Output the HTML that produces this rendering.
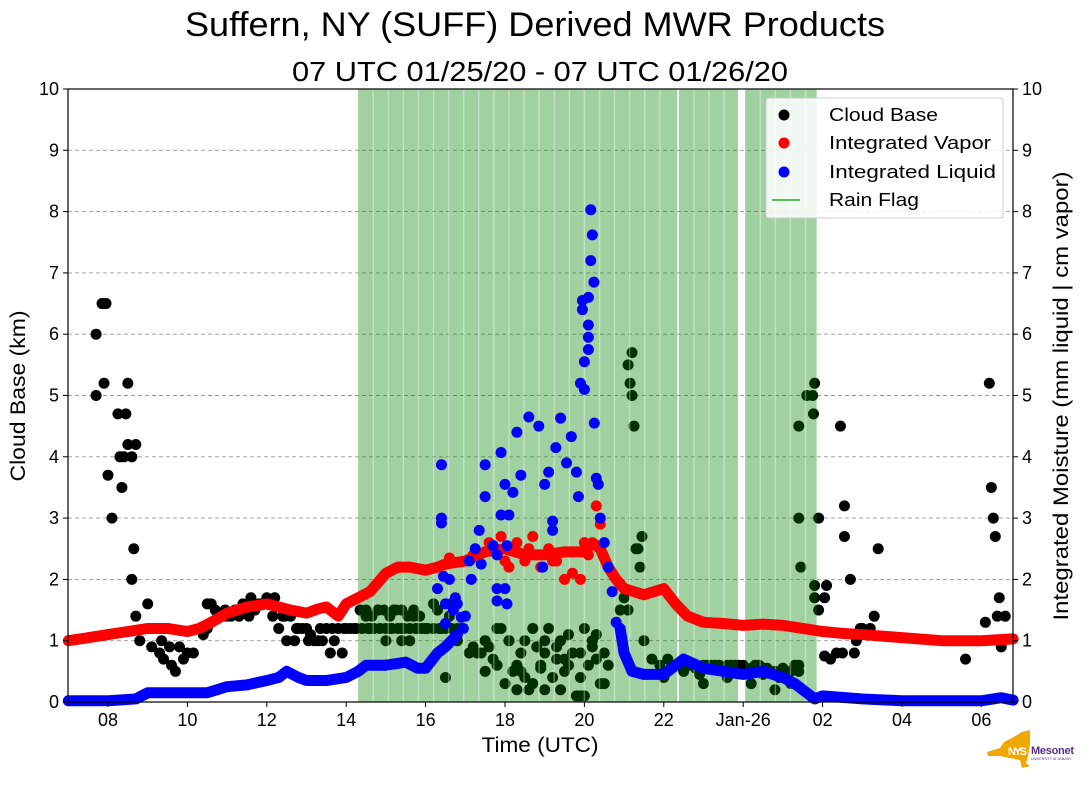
<!DOCTYPE html>
<html><head><meta charset="utf-8"><style>
html,body{margin:0;padding:0;background:#fff;}
svg{display:block;font-family:"Liberation Sans","DejaVu Sans",sans-serif;}
</style></head><body>
<svg id="chart" width="1089" height="804" viewBox="0 0 1089 804" xmlns="http://www.w3.org/2000/svg">
<text x="535" y="36" font-size="34" text-anchor="middle" textLength="700" lengthAdjust="spacingAndGlyphs">Suffern, NY (SUFF) Derived MWR Products</text>
<text x="540" y="81" font-size="28" text-anchor="middle" textLength="496" lengthAdjust="spacingAndGlyphs">07 UTC 01/25/20 - 07 UTC 01/26/20</text>
<g id="grid"></g>
<g id="cloud"></g>
<g id="rain"></g>
<g id="vapor"></g>
<g id="liquid"></g>
<g id="axes"></g>
<text x="540" y="752" font-size="21" text-anchor="middle" textLength="117" lengthAdjust="spacingAndGlyphs">Time (UTC)</text>
<text transform="translate(25,396) rotate(-90)" font-size="21" text-anchor="middle" textLength="171" lengthAdjust="spacingAndGlyphs">Cloud Base (km)</text>
<text transform="translate(1068,396) rotate(-90)" font-size="21" text-anchor="middle" textLength="449" lengthAdjust="spacingAndGlyphs">Integrated Moisture (mm liquid | cm vapor)</text>
<g>
<rect x="766" y="98" width="237" height="120" rx="3" fill="#fff" fill-opacity="0.85" stroke="#ccc"/>
<circle cx="784" cy="115" r="5.5" fill="#000"/><text x="829" y="121" font-size="18" textLength="109" lengthAdjust="spacingAndGlyphs">Cloud Base</text>
<circle cx="784" cy="143" r="5.5" fill="#f00"/><text x="829" y="149" font-size="18" textLength="162" lengthAdjust="spacingAndGlyphs">Integrated Vapor</text>
<circle cx="784" cy="172" r="5.5" fill="#00f"/><text x="829" y="178" font-size="18" textLength="167" lengthAdjust="spacingAndGlyphs">Integrated Liquid</text>
<line x1="772" y1="200" x2="800" y2="200" stroke="#5cb85c" stroke-width="2"/><text x="829" y="206" font-size="18" textLength="90" lengthAdjust="spacingAndGlyphs">Rain Flag</text>
</g>
<g>
<polygon points="987,752 1000,748 1004,742 1012,738 1022,732 1030,730 1030,744 1028,756 1026,763 1030,766 1022,768 1020,760 1000,756 988,756" fill="#f0a800"/>
<text x="1008" y="755" font-size="11" font-weight="bold" fill="#fff" textLength="19">NYS</text>
<text x="1031" y="754" font-size="11" font-weight="bold" fill="#5a2d82" textLength="43">Mesonet</text>
<text x="1031" y="760" font-size="3.5" fill="#5a2d82">UNIVERSITY AT ALBANY</text>
</g>
</svg>
<script>
// ---- data ----
const xTickHours = [8,10,12,14,16,18,20,22,24,26,28,30];
const xTickLabels = ["08","10","12","14","16","18","20","22","Jan-26","02","04","06"];
const yTicks = [0,1,2,3,4,5,6,7,8,9,10];
const rainStart = [14.3,22.38,24.05];
const rainEnd = [22.34,23.87,25.85];
const vaporTime = [7,7.5,8,8.5,9,9.5,10,10.3,10.6,11,11.5,12,12.3,12.6,13,13.3,13.5,13.8,14,14.3,14.6,15,15.3,15.6,16,16.3,16.5,17,17.5,18,18.5,19,19.5,20,20.2,20.4,20.6,20.8,21,21.5,22,22.3,22.6,23,23.5,24,24.5,25,25.5,26,26.5,27,28,29,30,30.8];
const vaporValue = [1.0,1.05,1.1,1.15,1.2,1.2,1.15,1.2,1.3,1.45,1.55,1.6,1.55,1.5,1.45,1.52,1.55,1.4,1.6,1.7,1.8,2.1,2.2,2.2,2.15,2.2,2.25,2.3,2.45,2.5,2.4,2.4,2.45,2.45,2.6,2.5,2.2,2.0,1.85,1.75,1.85,1.6,1.4,1.3,1.28,1.25,1.27,1.25,1.2,1.15,1.12,1.1,1.05,1.0,1.0,1.03];
const vaporScatterTime = [17.6,17.9,18.1,18.3,18.5,18.7,18.9,19.1,19.3,19.5,19.7,19.9,20.1,20.3,20.4,18.0,18.6,19.2,20.0,16.6,17.2];
const vaporScatterValue = [2.6,2.7,2.2,2.6,2.3,2.7,2.2,2.5,2.3,2.0,2.1,2.0,2.4,3.2,2.9,2.3,2.5,2.3,2.6,2.35,2.4];
const liquidTimeA = [7,8,8.7,9,9.5,10,10.5,11,11.5,12,12.3,12.5,12.8,13,13.5,14,14.3,14.5,15,15.5,15.8,16,16.3,16.5,16.8];
const liquidValueA = [0.02,0.02,0.05,0.15,0.15,0.15,0.15,0.25,0.28,0.35,0.4,0.5,0.4,0.35,0.35,0.4,0.5,0.6,0.6,0.65,0.55,0.55,0.8,0.9,1.1];
const liquidTimeB = [20.9,21.0,21.2,21.5,22,22.3,22.5,23,23.5,24,24.5,25,25.3,25.6,25.8,26,27,28,30,30.5,30.8];
const liquidValueB = [1.2,0.8,0.5,0.45,0.45,0.6,0.7,0.55,0.5,0.45,0.5,0.4,0.3,0.15,0.05,0.1,0.05,0.02,0.02,0.07,0.03];
const liquidScatterTime = [20.16,20.2,20.16,20.24,20.1,19.95,19.95,20.1,20.1,20.1,20.0,19.9,20.0,20.25,19.4,18.6,18.85,18.3,19.67,19.28,17.9,17.5,16.4,20.3,20.35,19.55,19.1,18.4,18.0,17.5,19.0,19.8,18.2,16.4,16.4,20.4,19.85,19.2,17.35,17.9,18.1,17.25,19.2,18.05,17.7,18.95,17.1,17.4,17.8,17.15,17.8,18.0,16.3,16.5,16.7,16.9,16.5,18.05,17.8,16.45,16.6,20.5,20.6,20.7,20.8,16.8,17.0,16.95,16.75];
const liquidScatterValue = [8.03,7.62,7.2,6.85,6.6,6.55,6.4,6.15,5.95,5.75,5.55,5.2,5.1,4.55,4.63,4.65,4.5,4.4,4.33,4.15,4.07,3.87,3.87,3.65,3.55,3.9,3.75,3.7,3.55,3.35,3.55,3.75,3.42,3.0,2.92,3.0,3.35,2.95,2.8,3.05,3.05,2.5,2.8,2.55,2.55,2.2,2.3,2.25,2.4,2.0,1.85,1.85,1.85,1.6,1.5,1.38,1.28,1.6,1.65,2.05,2.0,2.6,2.2,1.8,1.3,1.6,1.4,1.2,1.7];
const cloudTime = [7.7,7.85,7.95,7.7,7.9,8.0,8.1,8.25,8.45,8.3,8.4,8.35,8.5,8.5,8.7,8.6,8.65,8.6,8.7,8.8,9.0,9.1,9.3,9.4,9.6,9.7,9.8,9.9,10.0,9.35,9.55,10.15,10.4,10.5,10.6,10.8,11.0,11.2,11.4,11.6,11.8,12.0,12.2,12.4,12.6,12.8,13.0,13.2,13.4,13.6,13.8,14.0,14.2,11.1,11.5,11.9,12.3,12.7,13.1,13.5,13.9,10.5,10.9,11.3,11.7,12.1,12.5,12.9,13.3,13.7,14.1,14.5,14.8,15.1,15.4,15.7,16.0,16.3,16.6,16.9,14.6,15.0,15.4,15.8,16.2,16.6,17.0,15.2,15.6,16.0,16.4,16.8,17.3,17.6,17.9,18.2,18.5,18.8,19.1,19.4,19.7,20.0,20.3,20.6,17.4,17.8,18.1,18.4,18.7,19.0,19.3,19.6,19.9,20.2,20.5,17.5,18.0,18.5,19.0,19.5,20.0,20.5,18.3,18.9,19.4,19.9,20.4,18.6,19.2,19.8,20.3,16.5,17.1,21.1,21.2,21.15,21.2,21.25,21.35,21.45,21.4,21.3,20.9,21.1,21.0,21.5,21.7,21.9,22.1,22.3,22.5,22.7,22.9,23.1,23.3,23.5,23.7,23.9,24.1,24.3,24.5,24.7,24.9,25.1,25.3,22.0,22.4,23.0,23.6,24.2,24.8,25.2,25.4,25.4,25.45,25.75,25.77,25.8,25.6,25.4,25.4,25.8,25.9,26.1,26.05,25.8,25.9,26.05,26.2,26.35,26.5,26.45,26.55,26.55,26.7,26.85,26.95,27.1,27.2,27.3,27.0,26.8,27.4,29.6,30.1,30.2,30.35,30.45,30.4,30.5,30.6,30.3,30.25];
const cloudValue = [6.0,6.5,6.5,5.0,5.2,3.7,3.0,4.7,4.7,4.0,4.0,3.5,5.2,4.2,4.2,4.0,2.5,2.0,1.4,1.0,1.6,0.9,0.8,0.7,0.6,0.5,0.9,0.7,0.8,1.0,0.9,0.8,1.1,1.6,1.6,1.4,1.4,1.5,1.6,1.7,1.6,1.7,1.7,1.4,1.4,1.2,1.2,1.0,1.0,0.8,1.2,1.2,1.2,1.4,1.5,1.6,1.2,1.0,1.1,1.2,0.8,1.2,1.4,1.4,1.5,1.6,1.0,1.2,1.0,1.0,1.2,1.4,1.5,1.2,1.2,1.4,1.2,1.5,1.6,1.2,1.2,1.0,1.0,1.2,1.6,1.4,1.4,1.5,1.0,1.2,1.2,1.0,0.8,0.9,1.2,0.5,1.0,0.9,1.2,1.0,0.8,1.2,1.1,0.6,0.8,0.6,1.0,0.5,0.3,0.8,0.7,0.6,0.4,0.9,0.8,0.5,0.3,0.4,0.2,0.5,0.1,0.3,0.2,0.6,0.2,0.1,0.3,0.2,0.4,0.1,0.7,0.4,0.8,5.5,5.7,5.2,5.0,4.5,2.5,2.7,2.2,2.5,1.5,1.5,1.7,1.0,0.7,0.6,0.7,0.6,0.5,0.6,0.55,0.6,0.6,0.5,0.6,0.6,0.5,0.6,0.55,0.5,0.4,0.4,0.6,0.4,0.6,0.3,0.4,0.3,0.2,0.3,0.5,0.6,2.2,5.0,4.7,5.2,5.0,4.5,3.0,1.7,1.5,1.9,1.7,1.9,3.0,0.75,0.7,0.8,0.8,4.5,2.7,3.2,2.0,1.0,1.2,1.1,1.2,1.4,1.2,0.8,2.5,0.7,1.3,5.2,2.7,1.7,1.4,0.9,1.4,3.0,3.5,1.2,1.1];
const cloudTimeExtra = [10.7,10.95,11.25,11.55,11.85,12.15,12.45,12.75,13.05,13.35,13.65,13.95,14.25,14.4,14.55,14.7,14.85,15.0,15.15,15.3,15.45,15.6,15.75,15.9,16.05,16.2,16.35,16.5,16.65,16.8,14.35,14.5,14.65,14.8,14.95,15.1,15.25,15.4,15.55,15.7,15.85,17.2,17.5,17.8,18.1,18.4,18.7,19.0,19.3,19.6,19.9,20.2,17.7,18.3,18.9,19.5,20.1,22.2,22.6,22.8,23.0,23.2,23.4,23.6,23.8,24.0,24.2,24.4,24.6,24.8,25.0,25.2,22.9,23.7,24.5,25.1];
const cloudValueExtra = [1.5,1.5,1.5,1.4,1.6,1.4,1.4,1.2,1.0,1.2,1.2,1.2,1.2,1.2,1.2,1.2,1.2,1.2,1.2,1.2,1.2,1.2,1.2,1.2,1.2,1.2,1.2,1.2,1.2,1.2,1.5,1.5,1.4,1.5,1.5,1.4,1.5,1.5,1.4,1.5,1.4,0.9,1.0,1.2,1.0,0.8,1.2,1.0,0.9,1.1,0.8,1.0,0.7,0.6,0.55,0.7,0.6,0.6,0.6,0.55,0.6,0.6,0.6,0.6,0.6,0.6,0.55,0.6,0.55,0.5,0.55,0.5,0.45,0.5,0.45,0.45];

// ---- scales ----
const X0=68, X1=1013, Y0=702, Y1=89;
const HMIN=7, PXH=39.7;
function xs(h){return X0+0.3+(h-HMIN)*PXH;}
function ys(v){return Y0-(v/10)*(Y0-Y1);}
const NS="http://www.w3.org/2000/svg";
function mk(tag,parent,attrs){const e=document.createElementNS(NS,tag);for(const k in attrs)e.setAttribute(k,attrs[k]);parent.appendChild(e);return e;}
const g=id=>document.getElementById(id);

// grid
yTicks.forEach(v=>{if(v===0||v===10)return;
  const l=mk('line',g('grid'),{x1:X0,x2:X1,y1:ys(v),y2:ys(v),stroke:'#999','stroke-dasharray':'4,3','stroke-width':0.9});
  
  
});

// cloud base
function cloudPts(ts,vs){ts.forEach((t,i)=>{
  const c=mk('circle',g('cloud'),{cx:xs(t),cy:ys(vs[i]),r:5.5,fill:'#000'});
  
  
});}
cloudPts(cloudTime,cloudValue);
cloudPts(cloudTimeExtra,cloudValueExtra);

// rain flag
rainStart.forEach((s,i)=>{
  const r=mk('rect',g('rain'),{x:xs(s),y:Y1,width:xs(rainEnd[i])-xs(s),height:Y0-Y1,fill:'rgb(0,128,0)','fill-opacity':0.37});
  
  
  for(let h=s+0.38;h<rainEnd[i]-0.1;h+=0.38){
    const l=mk('line',g('rain'),{x1:xs(h),x2:xs(h),y1:Y1,y2:Y0,stroke:'#fff','stroke-opacity':0.35,'stroke-width':1.5});
    
    
  }
});

// vapor
const vp=mk('polyline',g('vapor'),{points:vaporTime.map((t,i)=>xs(t)+','+ys(vaporValue[i])).join(' '),fill:'none',stroke:'#f00','stroke-width':11,'stroke-linejoin':'round','stroke-linecap':'round'});


vaporScatterTime.forEach((t,i)=>{
  const c=mk('circle',g('vapor'),{cx:xs(t),cy:ys(vaporScatterValue[i]),r:5.5,fill:'#f00'});
  
  
});

// liquid
function liqLine(ts,vs){
  const lp=mk('polyline',g('liquid'),{points:ts.map((t,i)=>xs(t)+','+ys(vs[i])).join(' '),fill:'none',stroke:'#00f','stroke-width':11,'stroke-linejoin':'round','stroke-linecap':'round'});
  
  
}
liqLine(liquidTimeA,liquidValueA);
liqLine(liquidTimeB,liquidValueB);
liquidScatterTime.forEach((t,i)=>{
  const c=mk('circle',g('liquid'),{cx:xs(t),cy:ys(liquidScatterValue[i]),r:5.5,fill:'#00f'});
  
  
});

// axes
const ax=g('axes');
mk('rect',ax,{x:X0,y:Y1,width:X1-X0,height:Y0-Y1,fill:'none',stroke:'#000','stroke-width':1.2});
yTicks.forEach(v=>{
  mk('line',ax,{x1:X0-5,x2:X0,y1:ys(v),y2:ys(v),stroke:'#000'});
  mk('line',ax,{x1:X1,x2:X1+5,y1:ys(v),y2:ys(v),stroke:'#000'});
  const a=mk('text',ax,{x:X0-9,y:ys(v)+6,'font-size':18,'text-anchor':'end'});a.textContent=v;
  
  
  const b=mk('text',ax,{x:X1+9,y:ys(v)+6,'font-size':18});b.textContent=v;
  
  
});
xTickHours.forEach((h,i)=>{
  mk('line',ax,{x1:xs(h),x2:xs(h),y1:Y0,y2:Y0+5,stroke:'#000'});
  const t=mk('text',ax,{x:xs(h),y:Y0+24,'font-size':18,'text-anchor':'middle'});t.textContent=xTickLabels[i];
  
  
});
</script>
</body></html>
